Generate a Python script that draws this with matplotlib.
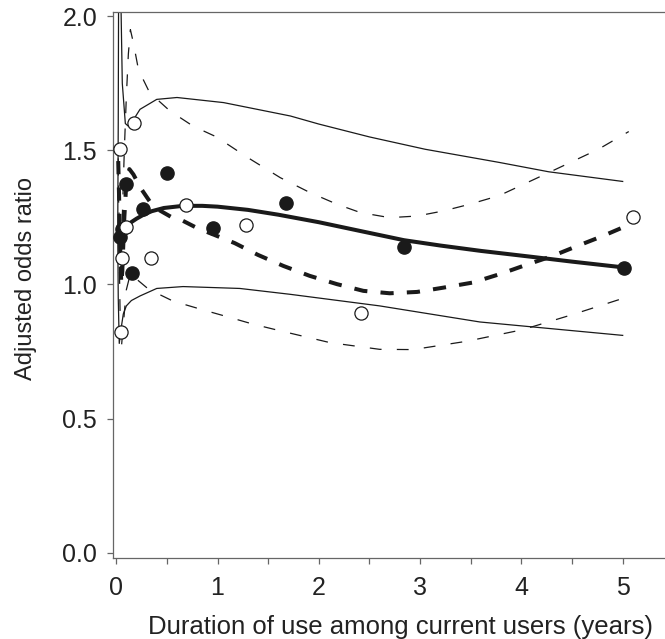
import matplotlib
matplotlib.use('Agg')
import matplotlib.pyplot as plt

plt.rcParams['font.family'] = ['Liberation Sans', 'DejaVu Sans']
plt.rcParams['lines.scale_dashes'] = False

# observed odds ratios (filled and open circles)
filled_x = [0.037, 0.06, 0.097, 0.159, 0.268, 0.505, 0.953, 1.673, 2.844, 5.015]
filled_y = [1.175, 1.208, 1.373, 1.044, 1.283, 1.417, 1.211, 1.305, 1.140, 1.063]
open_x = [0.037, 0.179, 0.097, 0.06, 0.34, 0.05, 0.686, 1.281, 2.417, 5.106]
open_y = [1.504, 1.603, 1.214, 1.098, 1.098, 0.821, 1.295, 1.223, 0.892, 1.251]

# fitted curve (solid) with its confidence band
fit_x = [0.03, 0.05, 0.07, 0.12, 0.2, 0.27, 0.35, 0.47, 0.66, 0.85, 1.0, 1.3, 1.6,
         2.0, 2.4, 2.84, 3.2, 3.6, 4.1, 4.5, 5.02]
fit_y = [1.18, 1.195, 1.206, 1.225, 1.245, 1.26, 1.273, 1.285, 1.293, 1.293, 1.29,
         1.278, 1.26, 1.232, 1.2, 1.165, 1.145, 1.125, 1.103, 1.085, 1.063]
fit_hi_x = [0.015, 0.02, 0.025, 0.03, 0.04, 0.06, 0.09, 0.12, 0.18, 0.235, 0.4, 0.6,
            1.06, 1.72, 2.0, 2.5, 3.05, 3.78, 4.27, 5.0]
fit_hi_y = [1.2, 1.6, 2.3, 2.6, 2.2, 1.75, 1.6, 1.59, 1.62, 1.653, 1.69, 1.697,
            1.678, 1.628, 1.598, 1.55, 1.504, 1.455, 1.42, 1.384]
fit_lo_x = [0.015, 0.02, 0.03, 0.05, 0.07, 0.1, 0.15, 0.235, 0.4, 0.66, 1.22, 1.72,
            2.6, 3.59, 5.0]
fit_lo_y = [1.2, 0.95, 0.78, 0.84, 0.89, 0.92, 0.94, 0.957, 0.985, 0.992, 0.985,
            0.963, 0.92, 0.86, 0.81]

# second fitted curve (dashed) with its confidence band
alt_x = [0.02, 0.03, 0.04, 0.05, 0.06, 0.08, 0.10, 0.13, 0.17, 0.24, 0.33, 0.42, 0.55,
         0.66, 0.8, 1.0, 1.17, 1.4, 1.65, 1.91, 2.18, 2.44, 2.7, 2.97, 3.23, 3.52,
         3.8, 4.04, 4.3, 4.53, 4.8, 5.06]
alt_y = [1.46, 1.30, 1.12, 1.00, 1.05, 1.25, 1.38, 1.43, 1.41, 1.36, 1.31, 1.278,
         1.25, 1.237, 1.21, 1.18, 1.154, 1.11, 1.069, 1.032, 1.001, 0.976, 0.967,
         0.972, 0.988, 1.007, 1.04, 1.072, 1.105, 1.14, 1.18, 1.222]
alt_hi_x = [0.02, 0.03, 0.045, 0.06, 0.08, 0.1, 0.12, 0.14, 0.17, 0.22, 0.33, 0.53,
            0.76, 0.99, 1.29, 1.62, 1.91, 2.18, 2.41, 2.70, 2.97, 3.23, 3.49, 3.78,
            4.27, 4.76, 5.06]
alt_hi_y = [1.47, 1.2, 1.1, 1.25, 1.5, 1.7, 1.86, 1.95, 1.9, 1.80, 1.715, 1.647,
            1.59, 1.55, 1.475, 1.398, 1.343, 1.299, 1.268, 1.249, 1.255, 1.274,
            1.299, 1.331, 1.417, 1.504, 1.57]
alt_lo_x = [0.02, 0.03, 0.04, 0.05, 0.07, 0.1, 0.14, 0.2, 0.32, 0.56, 0.83, 1.12,
            1.35, 1.62, 2.11, 2.6, 2.93, 3.46, 4.01, 4.5, 5.06]
alt_lo_y = [1.45, 1.1, 0.85, 0.76, 0.85, 0.98, 1.04, 1.02, 0.982, 0.938, 0.908,
            0.877, 0.852, 0.827, 0.783, 0.758, 0.757, 0.788, 0.831, 0.887, 0.955]

x_ticks = [0, 1, 2, 3, 4, 5]
y_ticks = [0.0, 0.5, 1.0, 1.5, 2.0]

ink = '#1a1a1a'
fig = plt.figure(figsize=(6.65, 6.39), dpi=100)
# the right edge of the frame falls just outside the picture
ax = fig.add_axes([0.1692, 0.1268, 0.8383, 0.8545])

ax.plot(fit_x, fit_y, color=ink, lw=2.9, solid_capstyle='butt')
ax.plot(fit_hi_x, fit_hi_y, color=ink, lw=0.9)
ax.plot(fit_lo_x, fit_lo_y, color=ink, lw=0.9)

ax.plot(alt_x, alt_y, color=ink, lw=2.9, dashes=(9.5, 9.5))
ax.plot(alt_hi_x, alt_hi_y, color=ink, lw=0.9, dashes=(8.5, 11))
ax.plot(alt_lo_x, alt_lo_y, color=ink, lw=0.9, dashes=(8.5, 11))

ax.plot(filled_x, filled_y, 'o', ms=9.5, color=ink, zorder=5)
ax.plot(open_x, open_y, 'o', ms=9.5, mfc='white', mec=ink, mew=0.9, zorder=5)

ax.set_xlim(-0.0365, 5.467)
ax.set_ylim(-0.02, 2.016)
ax.set_xticks(x_ticks)
ax.set_xticks([0.5, 1.5, 2.5, 3.5, 4.5], minor=True)
ax.set_yticks(y_ticks)
ax.set_yticklabels(['%.1f' % v for v in y_ticks])

for s in ax.spines.values():
    s.set_color('#666666')
    s.set_linewidth(0.9)
ax.spines['right'].set_visible(False)
ax.tick_params(which='both', direction='out', length=4, width=0.9, color='#666666',
               labelsize=18, labelcolor='#222222')
ax.tick_params(axis='y', pad=7)
ax.tick_params(axis='x', pad=9)

ax.set_xlabel('Duration of use among current users (years)', fontsize=18.5,
              color='#222222')
ax.set_ylabel('Adjusted odds ratio', fontsize=17, color='#222222')
ax.xaxis.set_label_coords(0.516, -0.105)
ax.yaxis.set_label_coords(-0.1354, 0.511)

fig.savefig('out.png', dpi=100)
